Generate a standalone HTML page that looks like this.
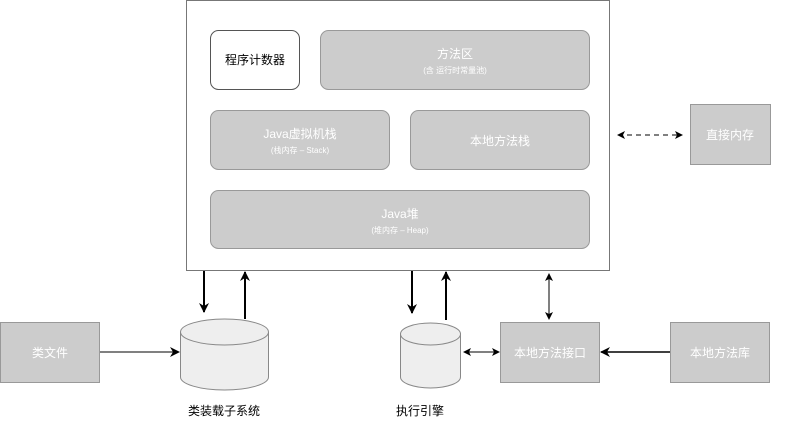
<!DOCTYPE html>
<html><head><meta charset="utf-8"><style>
body{margin:0;background:#fff;}
svg text{font-family:"Liberation Sans","Noto Sans CJK SC",sans-serif;}
</style></head><body>
<svg width="790" height="420" viewBox="0 0 790 420" xmlns="http://www.w3.org/2000/svg">
<defs>
<marker id="ab" markerWidth="10" markerHeight="10" refX="9" refY="5" orient="auto" markerUnits="userSpaceOnUse"><path d="M0,0 L10,5 L0,10 L3,5 z" fill="#000"/></marker>
<marker id="as" markerWidth="8" markerHeight="8" refX="7" refY="4" orient="auto-start-reverse" markerUnits="userSpaceOnUse"><path d="M0,0 L8,4 L0,8 L2,4 z" fill="#000"/></marker>
</defs>
<rect x="186.5" y="0.5" width="423" height="270" fill="#fff" stroke="#777"/>
<rect x="210.5" y="30.5" width="89" height="59" rx="8" fill="#fff" stroke="#555"/>
<text x="255" y="64" font-size="12" text-anchor="middle" fill="#000">程序计数器</text>
<rect x="320.5" y="30.5" width="269" height="59" rx="8" fill="#ccc" stroke="#999"/>
<text x="455" y="58" font-size="12" text-anchor="middle" fill="#fff">方法区</text>
<text x="455" y="73" font-size="8" text-anchor="middle" fill="#fff">(含 运行时常量池)</text>
<rect x="210.5" y="110.5" width="179" height="59" rx="8" fill="#ccc" stroke="#999"/>
<text x="300" y="138" font-size="12" text-anchor="middle" fill="#fff">Java虚拟机栈</text>
<text x="300" y="153" font-size="8" text-anchor="middle" fill="#fff">(栈内存 – Stack)</text>
<rect x="410.5" y="110.5" width="179" height="59" rx="8" fill="#ccc" stroke="#999"/>
<text x="500" y="145" font-size="12" text-anchor="middle" fill="#fff">本地方法栈</text>
<rect x="210.5" y="190.5" width="379" height="58" rx="8" fill="#ccc" stroke="#999"/>
<text x="400" y="218" font-size="12" text-anchor="middle" fill="#fff">Java堆</text>
<text x="400" y="233" font-size="8" text-anchor="middle" fill="#fff">(堆内存 – Heap)</text>
<rect x="690.5" y="104.5" width="80" height="60" fill="#ccc" stroke="#999"/>
<text x="730" y="139" font-size="12" text-anchor="middle" fill="#fff">直接内存</text>
<line x1="618" y1="135" x2="682" y2="135" stroke="#000" stroke-dasharray="5,4" marker-start="url(#as)" marker-end="url(#as)"/>
<rect x="0.5" y="322.5" width="99" height="60" fill="#ccc" stroke="#999"/>
<text x="50" y="357" font-size="12" text-anchor="middle" fill="#fff">类文件</text>
<rect x="500.5" y="322.5" width="99" height="60" fill="#ccc" stroke="#999"/>
<text x="550" y="357" font-size="12" text-anchor="middle" fill="#fff">本地方法接口</text>
<rect x="670.5" y="322.5" width="99" height="60" fill="#ccc" stroke="#999"/>
<text x="720" y="357" font-size="12" text-anchor="middle" fill="#fff">本地方法库</text>
<path d="M180.5,332 L180.5,377 A44,13 0 0 0 268.5,377 L268.5,332" fill="#eee" stroke="#888"/>
<ellipse cx="224.5" cy="332" rx="44" ry="13" fill="#eee" stroke="#888"/>
<path d="M400.5,334 L400.5,377 A30,11 0 0 0 460.5,377 L460.5,334" fill="#eee" stroke="#888"/>
<ellipse cx="430.5" cy="334" rx="30" ry="11" fill="#eee" stroke="#888"/>
<text x="224" y="415" font-size="12" text-anchor="middle" fill="#000">类装载子系统</text>
<text x="420" y="415" font-size="12" text-anchor="middle" fill="#000">执行引擎</text>
<line x1="204" y1="271" x2="204" y2="312" stroke="#000" stroke-width="2" marker-end="url(#ab)"/>
<line x1="245" y1="319" x2="245" y2="272" stroke="#000" stroke-width="2" marker-end="url(#ab)"/>
<line x1="412" y1="271" x2="412" y2="313" stroke="#000" stroke-width="2" marker-end="url(#ab)"/>
<line x1="446" y1="320" x2="446" y2="272" stroke="#000" stroke-width="2" marker-end="url(#ab)"/>
<line x1="549" y1="274" x2="549" y2="319" stroke="#000" marker-start="url(#as)" marker-end="url(#as)"/>
<line x1="100" y1="352" x2="179" y2="352" stroke="#000" marker-end="url(#ab)"/>
<line x1="464" y1="352" x2="499" y2="352" stroke="#000" marker-start="url(#as)" marker-end="url(#as)"/>
<line x1="670" y1="352" x2="601" y2="352" stroke="#000" stroke-width="1.5" marker-end="url(#ab)"/>
</svg>
</body></html>
